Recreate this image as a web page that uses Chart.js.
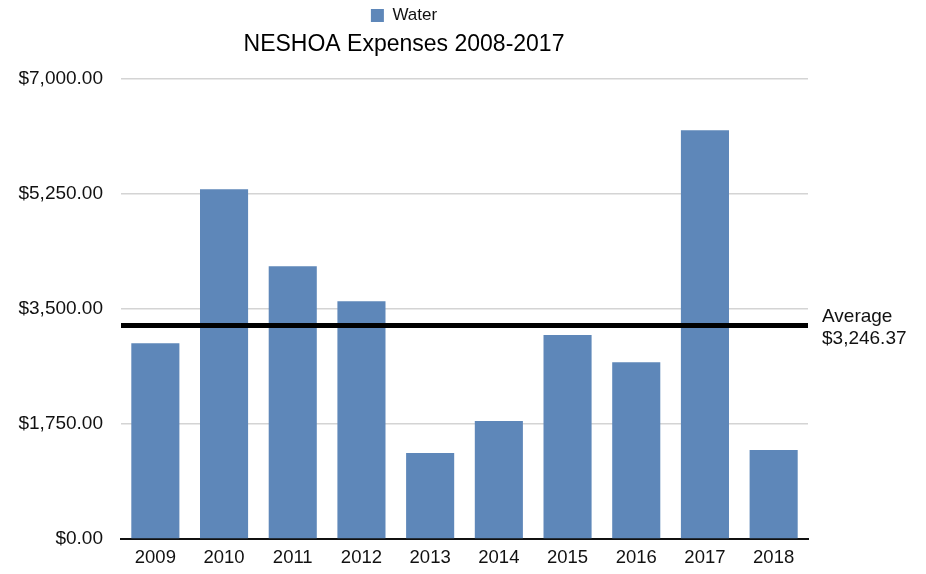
<!DOCTYPE html>
<html>
<head>
<meta charset="utf-8">
<style>
  html, body { margin: 0; padding: 0; background: #fff; }
  #chart { display: block; }
</style>
<script src="https://cdn.jsdelivr.net/npm/chart.js@4/dist/chart.umd.min.js"></script>
</head>
<body>
<canvas id="chart" width="926" height="574"></canvas>
<script>
const years = ['2009', '2010', '2011', '2012', '2013', '2014', '2015', '2016', '2017', '2018'];
const water = [2978, 5318, 4148, 3616, 1307, 1793, 3100, 2689, 6214, 1352];
const average = 3246.37;
const yTicks = [0, 1750, 3500, 5250, 7000];

const money = v => '$' + v.toLocaleString('en-US', { minimumFractionDigits: 2, maximumFractionDigits: 2 });

// horizontal average line across the plot, with its label to the right
const averageLine = {
  id: 'averageLine',
  afterDatasetsDraw(chart) {
    const { ctx, chartArea, scales } = chart;
    const y = scales.y.getPixelForValue(average);
    ctx.save();
    ctx.strokeStyle = '#000';
    ctx.lineWidth = 5;
    ctx.beginPath();
    ctx.moveTo(chartArea.left, y);
    ctx.lineTo(chartArea.right, y);
    ctx.stroke();
    ctx.fillStyle = '#111';
    ctx.font = '19px "Liberation Sans", Arial, sans-serif';
    ctx.textBaseline = 'middle';
    ctx.fillText('Average', chartArea.right + 14, y - 9);
    ctx.fillText(money(average), chartArea.right + 14, y + 13);
    ctx.restore();
  }
};

Chart.defaults.font.family = '"Liberation Sans", Arial, sans-serif';
Chart.defaults.color = '#111';

new Chart(document.getElementById('chart').getContext('2d'), {
  type: 'bar',
  data: {
    labels: years,
    datasets: [{
      label: 'Water',
      data: water,
      backgroundColor: '#5e87b9',
      categoryPercentage: 0.7,
      barPercentage: 1.0
    }]
  },
  options: {
    responsive: false,
    animation: false,
    layout: { padding: { left: 0, right: 118, top: 2, bottom: 0 } },
    plugins: {
      legend: {
        position: 'top',
        weight: 3000,
        labels: { font: { size: 17 }, color: '#111', boxWidth: 13, boxHeight: 13, padding: 5 }
      },
      title: {
        display: true,
        text: 'NESHOA Expenses 2008-2017',
        font: { size: 23, weight: 'normal' },
        color: '#000',
        padding: { top: -3, bottom: 20 }
      },
      tooltip: { enabled: false }
    },
    scales: {
      x: {
        afterFit: s => { s.height = 35; },
        grid: { display: false, drawTicks: false },
        border: { color: '#111', width: 2 },
        ticks: { font: { size: 18.5 }, padding: 8 }
      },
      y: {
        min: 0,
        max: 7000,
        afterBuildTicks: s => { s.ticks = yTicks.map(v => ({ value: v })); },
        afterFit: s => { s.width = 121; },
        grid: { color: '#d4d4d4', lineWidth: 1.5, drawTicks: false },
        border: { display: false },
        ticks: { font: { size: 19 }, padding: 18, callback: v => money(v) }
      }
    }
  },
  plugins: [averageLine]
});
</script>
</body>
</html>
